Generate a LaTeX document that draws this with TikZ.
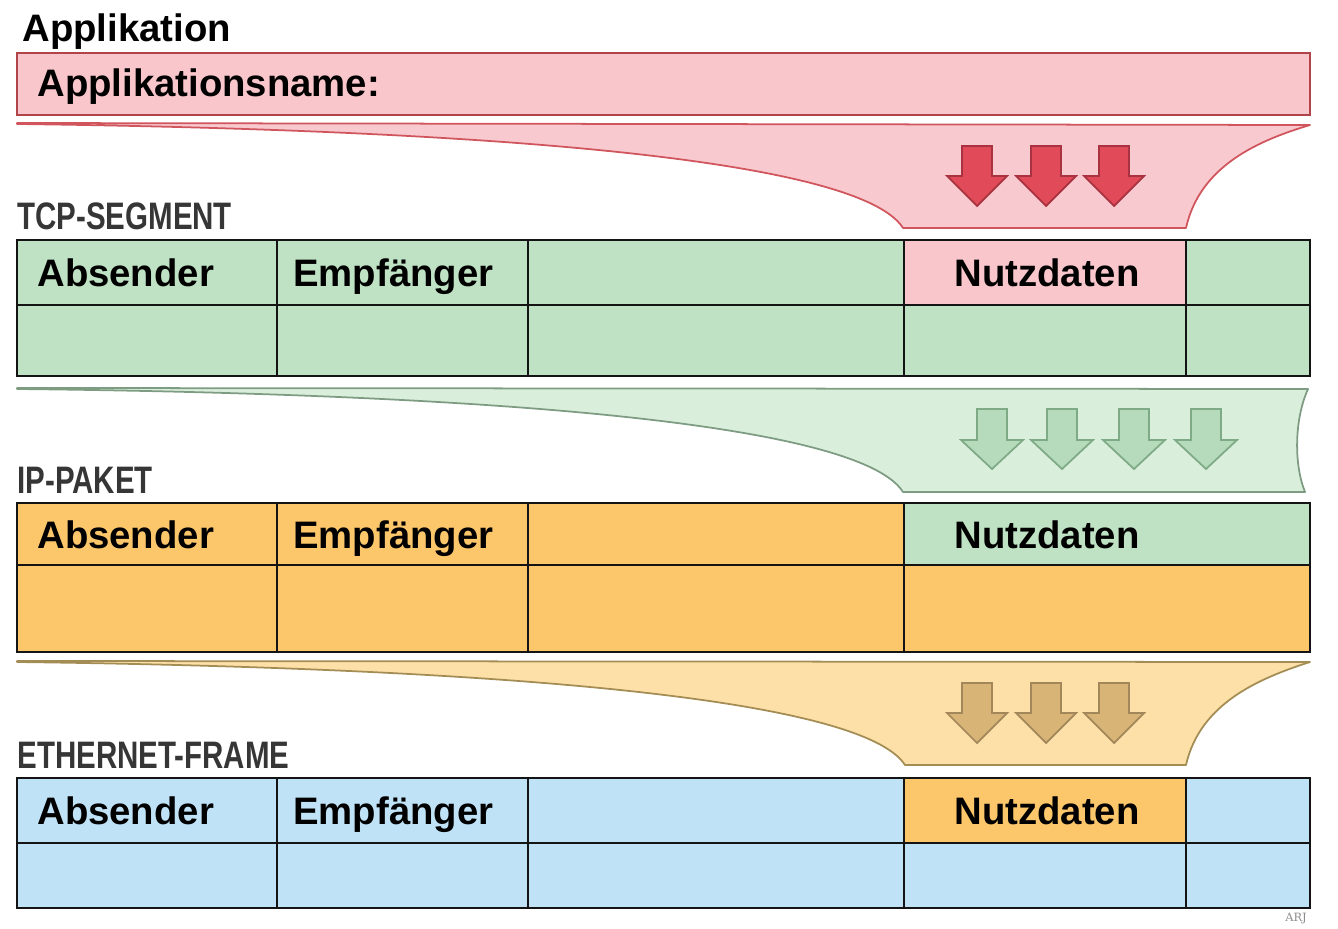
\documentclass[tikz,border=0pt]{standalone}
\usepackage{fontspec}
\setmainfont{Liberation Sans}
\newfontfamily\narrowfont[FakeStretch=0.77]{Liberation Sans}
\newfontfamily\signfont{DejaVu Serif}
\definecolor{apppink}{HTML}{F8C6CB}
\definecolor{appedge}{HTML}{B04448}
\definecolor{pinkfunnel}{HTML}{F8C9CE}
\definecolor{pinkline}{HTML}{D0555D}
\definecolor{redfill}{HTML}{E14B59}
\definecolor{redline}{HTML}{A8323F}
\definecolor{tcpgreen}{HTML}{BEE2C3}
\definecolor{greenfunnel}{HTML}{DAEEDC}
\definecolor{greenline}{HTML}{7E9C82}
\definecolor{greenfill}{HTML}{B6DBBC}
\definecolor{greenarrow}{HTML}{7FAA86}
\definecolor{iporange}{HTML}{FCC66A}
\definecolor{tanfunnel}{HTML}{FDE0A8}
\definecolor{tanline}{HTML}{A38D55}
\definecolor{tanfill}{HTML}{D8B577}
\definecolor{tanarrow}{HTML}{A2875A}
\definecolor{ethblue}{HTML}{BFE2F6}
\definecolor{labelgray}{HTML}{363636}
\newcommand\fieldsize{\fontsize{21.8}{24}\selectfont\bfseries}
\tikzset{
  field/.style={anchor=base west,inner sep=0pt,font=\fieldsize},
  payload/.style={anchor=base,inner sep=0pt,font=\fieldsize},
  layer/.style={anchor=base west,inner sep=0pt,text=labelgray,font=\narrowfont\fieldsize},
  grid/.style={draw=black!92,line width=1.2pt},
  funnel/.style 2 args={fill=#1,draw=#2,line width=1pt,line join=round},
  downarrow/.style 2 args={fill=#1,draw=#2,line width=1pt,line join=miter}
}
\begin{document}
\begin{tikzpicture}[x=0.02cm,y=-0.02cm]
\useasboundingbox (0,0) rectangle (1338,929);
\node[field] (apptitle) at (22,42) {Applikation};
\draw[fill=apppink,draw=appedge,line width=1.1pt] (17,53) rectangle (1310,115);
\node[field] (appname) at (37,97) {Applikationsname:};
\draw[funnel={pinkfunnel}{pinkline}] (17,123) -- (1310,125) .. controls (1260,140) and (1200,165) .. (1186,228)
  -- (903,228) .. controls (860,160) and (500,130) .. (17,124) -- cycle;
\foreach \x in {977,1046,1114}
  \draw[downarrow={redfill}{redline}] (\x-15,146) -- (\x+15,146) -- (\x+15,176) -- (\x+30,176) -- (\x,206) -- (\x-30,176) -- (\x-15,176) -- cycle;

\node[layer] (tcplabel) at (17,230) {TCP-SEGMENT};
\fill[tcpgreen] (17,240) rectangle (1310,376);
\fill[apppink] (904,240) rectangle (1186,305);
\draw[grid] (17,240) rectangle (1310,376) (17,305) -- (1310,305);
\foreach \x in {277,528,904,1186} \draw[grid] (\x,240) -- (\x,376);
\node[field] (tcpsrc) at (37,286) {Absender};
\node[field] (tcpdst) at (293,286) {Empfänger};
\node[payload] (tcpdata) at (1047,286) {Nutzdaten};

\draw[funnel={greenfunnel}{greenline}] (17,388) -- (1308,389) .. controls (1294,420) and (1294,465) .. (1305,492)
  -- (903,492) .. controls (860,424) and (500,394) .. (17,389) -- cycle;
\foreach \x in {992,1062,1134,1206}
  \draw[downarrow={greenfill}{greenarrow}] (\x-15,409) -- (\x+15,409) -- (\x+15,440) -- (\x+31,440) -- (\x,469) -- (\x-31,440) -- (\x-15,440) -- cycle;

\node[layer] (iplabel) at (17,493) {IP-PAKET};
\fill[iporange] (17,503) rectangle (1310,652);
\fill[tcpgreen] (904,503) rectangle (1310,565);
\draw[grid] (17,503) rectangle (1310,652) (17,565) -- (1310,565);
\foreach \x in {277,528,904} \draw[grid] (\x,503) -- (\x,652);
\node[field] (ipsrc) at (37,548) {Absender};
\node[field] (ipdst) at (293,548) {Empfänger};
\node[payload] (ipdata) at (1047,548) {Nutzdaten};

\draw[funnel={tanfunnel}{tanline}] (17,661) -- (1310,662) .. controls (1260,678) and (1200,703) .. (1186,765)
  -- (905,765) .. controls (862,698) and (500,668) .. (17,662) -- cycle;
\foreach \x in {977,1046,1114}
  \draw[downarrow={tanfill}{tanarrow}] (\x-15,683) -- (\x+15,683) -- (\x+15,713) -- (\x+30,713) -- (\x,743) -- (\x-30,713) -- (\x-15,713) -- cycle;

\node[layer] (ethlabel) at (17,768) {ETHERNET-FRAME};
\fill[ethblue] (17,778) rectangle (1310,908);
\fill[iporange] (904,778) rectangle (1186,843);
\draw[grid] (17,778) rectangle (1310,908) (17,843) -- (1310,843);
\foreach \x in {277,528,904,1186} \draw[grid] (\x,778) -- (\x,908);
\node[field] (ethsrc) at (37,824) {Absender};
\node[field] (ethdst) at (293,824) {Empfänger};
\node[payload] (ethdata) at (1047,824) {Nutzdaten};

\node[anchor=base,inner sep=0pt,text=black!45,font=\signfont\fontsize{6.5}{7}\selectfont] (sign) at (1296,921) {ARJ};
\end{tikzpicture}
\end{document}
